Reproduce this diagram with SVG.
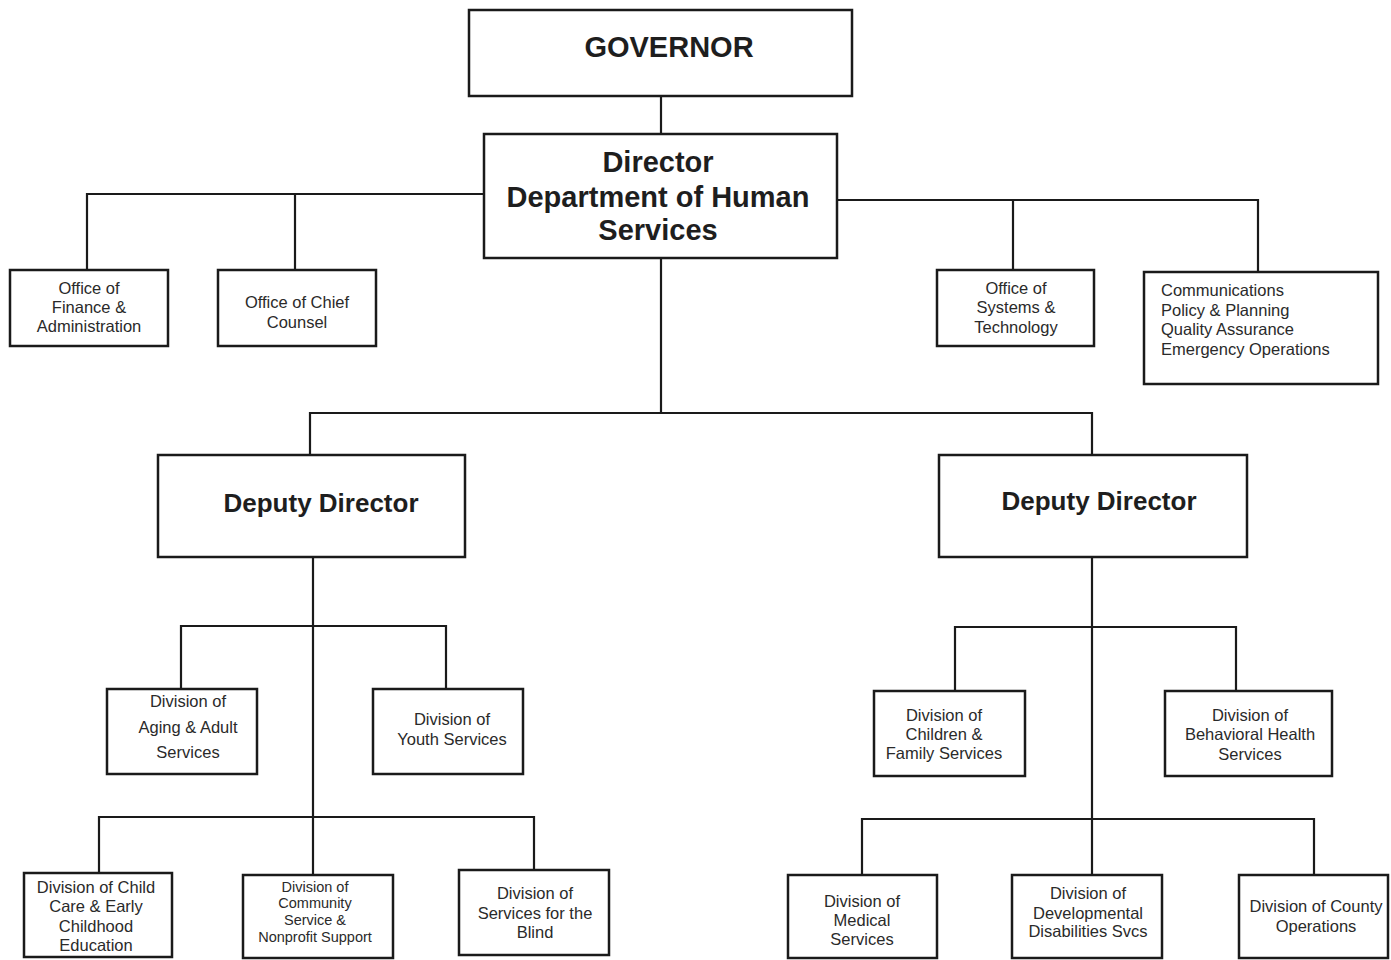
<svg xmlns="http://www.w3.org/2000/svg" width="1391" height="960" viewBox="0 0 1391 960">
  <style>
    .box { fill: #ffffff; stroke: #1a1a1a; stroke-width: 2.5; }
    .wire { fill: none; stroke: #1a1a1a; stroke-width: 2.2; }
    .big { font-family: "Liberation Sans", Arial, sans-serif; font-weight: bold; font-size: 29px; fill: #1e1e1e; text-anchor: middle; }
    .dep { font-family: "Liberation Sans", Arial, sans-serif; font-weight: bold; font-size: 26px; fill: #1e1e1e; text-anchor: middle; }
    .sm { font-family: "Liberation Sans", Arial, sans-serif; font-size: 16.5px; fill: #2a2a2a; text-anchor: middle; }
    .xs { font-family: "Liberation Sans", Arial, sans-serif; font-size: 14.5px; fill: #2a2a2a; text-anchor: middle; }
    .left { text-anchor: start; }
  </style>
  <rect width="1391" height="960" fill="#ffffff"/>

  <g id="connectors">
    <!-- governor to director -->
    <line class="wire" x1="661" y1="96" x2="661" y2="134"/>
    <!-- director staff offices, left -->
    <polyline class="wire" points="484,194 87,194 87,270"/>
    <line class="wire" x1="295" y1="194" x2="295" y2="270"/>
    <!-- director staff offices, right -->
    <polyline class="wire" points="837,200 1258,200 1258,272"/>
    <line class="wire" x1="1013" y1="200" x2="1013" y2="270"/>
    <!-- director to deputies -->
    <line class="wire" x1="661" y1="258" x2="661" y2="413"/>
    <polyline class="wire" points="310,455 310,413 1092,413 1092,455"/>
    <!-- left deputy trunk -->
    <line class="wire" x1="313" y1="557" x2="313" y2="875"/>
    <polyline class="wire" points="181,689 181,626 446,626 446,689"/>
    <polyline class="wire" points="99,873 99,817 534,817 534,870"/>
    <!-- right deputy trunk -->
    <line class="wire" x1="1092" y1="557" x2="1092" y2="875"/>
    <polyline class="wire" points="955,691 955,627 1236,627 1236,691"/>
    <polyline class="wire" points="862,875 862,819 1314,819 1314,875"/>
  </g>

  <g id="governor">
    <rect class="box" x="469" y="10" width="383" height="86"/>
    <text class="big" x="669" y="57">GOVERNOR</text>
  </g>

  <g id="director">
    <rect class="box" x="484" y="134" width="353" height="124"/>
    <text class="big" x="658" y="172">Director</text>
    <text class="big" x="658" y="207">Department of Human</text>
    <text class="big" x="658" y="240">Services</text>
  </g>

  <g id="finance">
    <rect class="box" x="10" y="270" width="158" height="76"/>
    <text class="sm" x="89" y="294">Office of</text>
    <text class="sm" x="89" y="313">Finance &amp;</text>
    <text class="sm" x="89" y="332">Administration</text>
  </g>

  <g id="chief-counsel">
    <rect class="box" x="218" y="270" width="158" height="76"/>
    <text class="sm" x="297" y="308">Office of Chief</text>
    <text class="sm" x="297" y="328">Counsel</text>
  </g>

  <g id="systems">
    <rect class="box" x="937" y="270" width="157" height="76"/>
    <text class="sm" x="1016" y="294">Office of</text>
    <text class="sm" x="1016" y="313">Systems &amp;</text>
    <text class="sm" x="1016" y="333">Technology</text>
  </g>

  <g id="communications">
    <rect class="box" x="1144" y="272" width="234" height="112"/>
    <text class="sm left" x="1161" y="296">Communications</text>
    <text class="sm left" x="1161" y="316">Policy &amp; Planning</text>
    <text class="sm left" x="1161" y="335">Quality Assurance</text>
    <text class="sm left" x="1161" y="355">Emergency Operations</text>
  </g>

  <g id="deputy-left">
    <rect class="box" x="158" y="455" width="307" height="102"/>
    <text class="dep" x="321" y="512">Deputy Director</text>
  </g>

  <g id="deputy-right">
    <rect class="box" x="939" y="455" width="308" height="102"/>
    <text class="dep" x="1099" y="510">Deputy Director</text>
  </g>

  <g id="aging">
    <rect class="box" x="107" y="689" width="150" height="85"/>
    <text class="sm" x="188" y="707">Division of</text>
    <text class="sm" x="188" y="733">Aging &amp; Adult</text>
    <text class="sm" x="188" y="758">Services</text>
  </g>

  <g id="youth">
    <rect class="box" x="373" y="689" width="150" height="85"/>
    <text class="sm" x="452" y="725">Division of</text>
    <text class="sm" x="452" y="745">Youth Services</text>
  </g>

  <g id="children-family">
    <rect class="box" x="874" y="691" width="151" height="85"/>
    <text class="sm" x="944" y="721">Division of</text>
    <text class="sm" x="944" y="740">Children &amp;</text>
    <text class="sm" x="944" y="759">Family Services</text>
  </g>

  <g id="behavioral-health">
    <rect class="box" x="1165" y="691" width="167" height="85"/>
    <text class="sm" x="1250" y="721">Division of</text>
    <text class="sm" x="1250" y="740">Behavioral Health</text>
    <text class="sm" x="1250" y="760">Services</text>
  </g>

  <g id="child-care">
    <rect class="box" x="24" y="873" width="148" height="84"/>
    <text class="sm" x="96" y="893">Division of Child</text>
    <text class="sm" x="96" y="912">Care &amp; Early</text>
    <text class="sm" x="96" y="932">Childhood</text>
    <text class="sm" x="96" y="951">Education</text>
  </g>

  <g id="community-service">
    <rect class="box" x="243" y="875" width="150" height="83"/>
    <text class="xs" x="315" y="892">Division of</text>
    <text class="xs" x="315" y="908">Community</text>
    <text class="xs" x="315" y="925">Service &amp;</text>
    <text class="xs" x="315" y="942">Nonprofit Support</text>
  </g>

  <g id="blind">
    <rect class="box" x="459" y="870" width="150" height="85"/>
    <text class="sm" x="535" y="899">Division of</text>
    <text class="sm" x="535" y="919">Services for the</text>
    <text class="sm" x="535" y="938">Blind</text>
  </g>

  <g id="medical">
    <rect class="box" x="788" y="875" width="149" height="83"/>
    <text class="sm" x="862" y="907">Division of</text>
    <text class="sm" x="862" y="926">Medical</text>
    <text class="sm" x="862" y="945">Services</text>
  </g>

  <g id="developmental">
    <rect class="box" x="1012" y="875" width="150" height="83"/>
    <text class="sm" x="1088" y="899">Division of</text>
    <text class="sm" x="1088" y="919">Developmental</text>
    <text class="sm" x="1088" y="937">Disabilities Svcs</text>
  </g>

  <g id="county-operations">
    <rect class="box" x="1239" y="875" width="149" height="83"/>
    <text class="sm" x="1316" y="912">Division of County</text>
    <text class="sm" x="1316" y="932">Operations</text>
  </g>
</svg>
